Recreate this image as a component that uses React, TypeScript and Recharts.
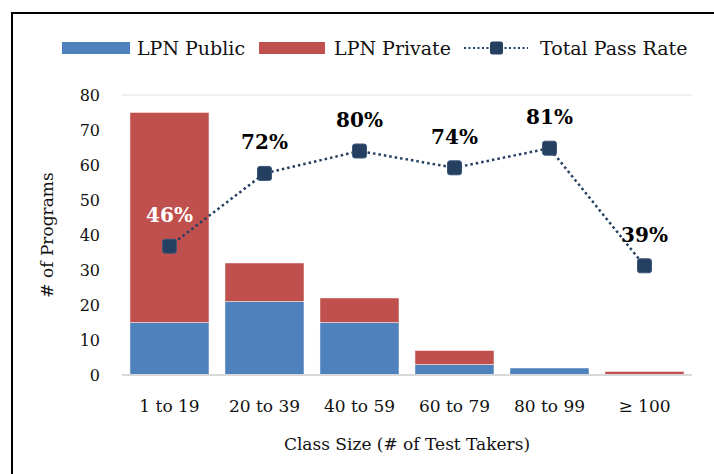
import {
  ComposedChart,
  Bar,
  Line,
  XAxis,
  YAxis,
  CartesianGrid,
  LabelList,
} from "recharts";

const categories = ["1 to 19", "20 to 39", "40 to 59", "60 to 79", "80 to 99", "≥ 100"];
const lpnPublic = [15, 21, 15, 3, 2, 0];
const lpnPrivate = [60, 11, 7, 4, 0, 1];
const passRate = [46, 72, 80, 74, 81, 39];
const yTicks = [0, 10, 20, 30, 40, 50, 60, 70, 80];

const data = categories.map((name, i) => ({
  name,
  pub: lpnPublic[i],
  priv: lpnPrivate[i],
  rate: passRate[i],
}));

const FONT = "'DejaVu Serif', serif";
const BLUE = "#4F81BD";
const RED = "#C0504D";
const NAVY = "#243F60";

const SquareDot = (props: any) => {
  const { cx, cy } = props;
  if (cx == null || cy == null) return null;
  return (
    <rect
      x={cx - 7}
      y={cy - 7}
      width={14}
      height={14}
      rx={2.5}
      fill={NAVY}
      stroke="#3a5678"
      strokeWidth={1}
    />
  );
};

const RateLabel = (props: any) => {
  const { x, y, value, index } = props;
  return (
    <text
      x={x}
      y={y - 24}
      textAnchor="middle"
      fontFamily={FONT}
      fontWeight="bold"
      fontSize={20}
      fill={index === 0 ? "#ffffff" : "#000000"}
    >
      {value}%
    </text>
  );
};

const YTitle = (props: any) => {
  const vb = props.viewBox || { x: 0, y: 95, height: 280 };
  const cx = vb.x + 47;
  const cy = vb.y + vb.height / 2;
  return (
    <text
      x={cx}
      y={cy}
      transform={`rotate(-90 ${cx} ${cy})`}
      textAnchor="middle"
      dominantBaseline="central"
      fontFamily={FONT}
      fontSize={17}
      fill="#111"
    >
      # of Programs
    </text>
  );
};

const XTitle = (props: any) => {
  const vb = props.viewBox || { x: 122, y: 375, width: 570 };
  return (
    <text
      x={vb.x + vb.width / 2}
      y={vb.y + 75}
      textAnchor="middle"
      fontFamily={FONT}
      fontSize={17}
      fill="#111"
    >
      Class Size (# of Test Takers)
    </text>
  );
};

const legendText = { fontFamily: FONT, fontSize: 19, color: "#111", whiteSpace: "nowrap" as const };

const App = () => {
  return (
    <div
      style={{
        position: "absolute",
        left: 0,
        top: 0,
        width: 714,
        height: 474,
        overflow: "hidden",
        background: "#fff",
      }}
    >
      <div
        style={{
          position: "absolute",
          left: 11,
          top: 12,
          width: 720,
          height: 480,
          borderLeft: "2px solid #000",
          borderTop: "2px solid #000",
        }}
      />
      <div
        style={{
          position: "absolute",
          left: 62,
          top: 36,
          height: 24,
          display: "flex",
          alignItems: "center",
        }}
      >
        <span style={{ width: 68, height: 12, background: BLUE, display: "inline-block" }} />
        <span style={{ ...legendText, marginLeft: 7 }}>LPN Public</span>
        <span style={{ width: 66, height: 12, background: RED, display: "inline-block", marginLeft: 14 }} />
        <span style={{ ...legendText, marginLeft: 9 }}>LPN Private</span>
        <svg width={64} height={14} style={{ marginLeft: 13 }}>
          <line x1={0} y1={7} x2={64} y2={7} stroke={NAVY} strokeWidth={2} strokeDasharray="2 2.5" />
          <rect x={26} y={0.5} width={13} height={13} rx={2.5} fill={NAVY} />
        </svg>
        <span style={{ ...legendText, marginLeft: 12 }}>Total Pass Rate</span>
      </div>
      <ComposedChart
        width={714}
        height={474}
        data={data}
        margin={{ top: 95, right: 22, left: 0, bottom: 19 }}
        barCategoryGap="8.4%"
        style={{ fontFamily: FONT }}
      >
        <CartesianGrid vertical={false} stroke="#ebebeb" strokeWidth={1.5} />
        <XAxis
          dataKey="name"
          height={80}
          tickLine={false}
          tickMargin={19}
          axisLine={{ stroke: "#d9d9d9", strokeWidth: 2 }}
          tick={{ fill: "#111", fontSize: 17, fontFamily: FONT }}
          interval={0}
          label={<XTitle />}
        />
        <YAxis
          yAxisId="left"
          width={122}
          domain={[0, 80]}
          ticks={yTicks}
          tickLine={false}
          axisLine={false}
          tickMargin={16}
          tick={{ fill: "#111", fontSize: 16, fontFamily: FONT }}
          label={<YTitle />}
        />
        <YAxis yAxisId="right" orientation="right" domain={[0, 100]} hide />
        <Bar
          yAxisId="left"
          dataKey="pub"
          stackId="a"
          fill={BLUE}
          stroke="rgba(255,255,255,0.45)"
          strokeWidth={1}
          isAnimationActive={false}
        />
        <Bar
          yAxisId="left"
          dataKey="priv"
          stackId="a"
          fill={RED}
          stroke="rgba(255,255,255,0.45)"
          strokeWidth={1}
          isAnimationActive={false}
        />
        <Line
          yAxisId="right"
          dataKey="rate"
          type="linear"
          stroke={NAVY}
          strokeWidth={2.5}
          strokeDasharray="2.5 3"
          dot={<SquareDot />}
          activeDot={false}
          isAnimationActive={false}
        >
          <LabelList dataKey="rate" content={<RateLabel />} />
        </Line>
      </ComposedChart>
    </div>
  );
};

export default App;
